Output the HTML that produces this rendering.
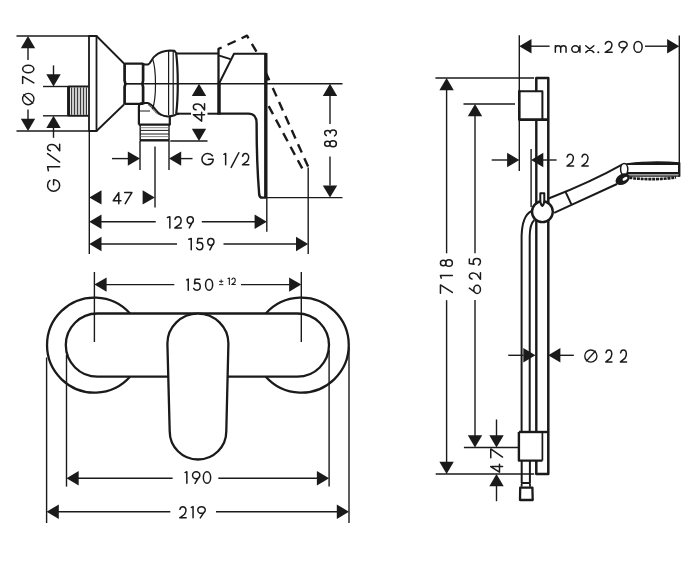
<!DOCTYPE html>
<html><head><meta charset="utf-8"><title>drawing</title>
<style>
html,body{margin:0;padding:0;background:#fff;}
body{width:700px;height:565px;overflow:hidden;}
svg{display:block;}
text{font-family:"Liberation Sans",sans-serif;fill:#1a1a1a;stroke:#fff;stroke-width:0.3px;}
</style></head><body>
<svg width="700" height="565" viewBox="0 0 700 565">
<rect x="0" y="0" width="700" height="565" fill="#fff"/>
<g stroke="#1a1a1a" fill="none" stroke-linecap="butt" stroke-linejoin="round">
<line x1="16.5" y1="36" x2="89" y2="36" stroke-width="1.4"/>
<line x1="16.5" y1="131" x2="89" y2="131" stroke-width="1.4"/>
<line x1="43" y1="86.5" x2="68" y2="86.5" stroke-width="1.4"/>
<line x1="43" y1="115.8" x2="68" y2="115.8" stroke-width="1.4"/>
<line x1="124" y1="83.7" x2="342.5" y2="83.7" stroke-width="1.4"/>
<polygon points="28,36 20.8,48.2 35.2,48.2" stroke="none" fill="#1a1a1a"/>
<polygon points="28,131 20.8,118.8 35.2,118.8" stroke="none" fill="#1a1a1a"/>
<line x1="28" y1="47" x2="28" y2="60" stroke-width="1.4"/>
<line x1="28" y1="109.5" x2="28" y2="119" stroke-width="1.4"/>
<line x1="53.5" y1="65.4" x2="53.5" y2="75" stroke-width="1.4"/>
<polygon points="53.5,86.5 46.3,74.3 60.7,74.3" stroke="none" fill="#1a1a1a"/>
<polygon points="53.5,115.8 46.3,128 60.7,128" stroke="none" fill="#1a1a1a"/>
<line x1="53.5" y1="127" x2="53.5" y2="137.8" stroke-width="1.4"/>
<path d="M88.5,86.4 H68.6 V115.7 H88.5" stroke-width="2" fill="none"/>
<line x1="68.6" y1="86.4" x2="68.6" y2="115.7" stroke-width="3"/>
<line x1="71.6" y1="87.4" x2="71.6" y2="114.8" stroke-width="1.1" stroke="#333"/>
<line x1="74.6" y1="87.4" x2="74.6" y2="114.8" stroke-width="1.1" stroke="#333"/>
<line x1="77.6" y1="87.4" x2="77.6" y2="114.8" stroke-width="1.1" stroke="#333"/>
<line x1="80.6" y1="87.4" x2="80.6" y2="114.8" stroke-width="1.1" stroke="#333"/>
<line x1="83.6" y1="87.4" x2="83.6" y2="114.8" stroke-width="1.1" stroke="#333"/>
<line x1="86.5" y1="87.4" x2="86.5" y2="114.8" stroke-width="1.1" stroke="#333"/>
<line x1="73.1" y1="87.4" x2="73.1" y2="114.8" stroke-width="0.8" stroke="#999"/>
<line x1="76.1" y1="87.4" x2="76.1" y2="114.8" stroke-width="0.8" stroke="#999"/>
<line x1="79.1" y1="87.4" x2="79.1" y2="114.8" stroke-width="0.8" stroke="#999"/>
<line x1="82.1" y1="87.4" x2="82.1" y2="114.8" stroke-width="0.8" stroke="#999"/>
<line x1="85.1" y1="87.4" x2="85.1" y2="114.8" stroke-width="0.8" stroke="#999"/>
<path d="M89,36 H96.5 V131 H89 Z" stroke-width="1.8" fill="none"/>
<path d="M96.5,36 L124,63.5 M96.5,131 L124,104.5" stroke-width="1.8" fill="none"/>
<path d="M124.5,63.6 H143.2 M124.5,103.9 H143.2" stroke-width="2.4" fill="none"/>
<path d="M124.6,63 V80.5 Q126,83.7 124.6,86.9 V104.5 M143.1,63 V80.5 Q141.7,83.7 143.1,86.9 V104.5" stroke-width="2.7" fill="none"/>
<line x1="124" y1="83.7" x2="143.5" y2="83.7" stroke-width="1.3"/>
<path d="M143.5,64.5 H148 C151,63.5 151,59 155,56 C159,52.5 164,50.8 170,50.6 L174.5,50.8 L176.5,53.6" stroke-width="2" fill="none"/>
<path d="M143,103.1 H147.5 C150.5,103.5 152.5,106 155,109 C158,113 162.5,116.3 167.5,116.5 C170.5,116.5 173,115.8 174.7,115.3 C176,114.2 177,113.7 179,113.7" stroke-width="2" fill="none"/>
<path d="M148,104.6 C150.5,106 152.5,109 155,111.7 C158,114.7 162,116 166.8,116.1" stroke-width="0.9" fill="none"/>
<path d="M152.5,58.5 C156.5,70 156.5,98 152.5,109" stroke-width="1.2" fill="none"/>
<line x1="168.6" y1="50.8" x2="168.6" y2="115" stroke-width="1.2"/>
<line x1="173.2" y1="51" x2="173.2" y2="114.5" stroke-width="1.2"/>
<path d="M176.2,53.6 C178.3,70 178.3,97 176.2,113.8" stroke-width="2.2" fill="none"/>
<path d="M138.9,124.5 V106.5 C138.9,104.5 140.5,103.3 143,103.2" stroke-width="2.2" fill="none"/>
<line x1="139.5" y1="111" x2="150" y2="111" stroke-width="1"/>
<line x1="169.8" y1="116" x2="169.8" y2="125" stroke-width="2.2"/>
<path d="M138.6,124.6 H170.4" stroke-width="2.2" fill="none"/>
<line x1="140.2" y1="125" x2="140.2" y2="140.5" stroke-width="1.4"/>
<line x1="169" y1="125" x2="169" y2="140.5" stroke-width="1.4"/>
<line x1="140.5" y1="127.7" x2="168.8" y2="127.7" stroke-width="0.9" stroke="#777"/>
<line x1="140.5" y1="130.4" x2="168.8" y2="130.4" stroke-width="1"/>
<line x1="140.5" y1="134" x2="168.8" y2="134" stroke-width="1"/>
<line x1="140.5" y1="136.6" x2="168.8" y2="136.6" stroke-width="0.9" stroke="#777"/>
<line x1="139.8" y1="140.3" x2="169.4" y2="140.3" stroke-width="2.4"/>
<line x1="176" y1="53.6" x2="218" y2="53.6" stroke-width="2"/>
<line x1="176" y1="113.7" x2="191" y2="113.7" stroke-width="2"/>
<line x1="207.5" y1="113.7" x2="219" y2="113.7" stroke-width="2"/>
<line x1="218.5" y1="48.5" x2="218.5" y2="84" stroke-width="2.3"/>
<line x1="219" y1="82.5" x2="219" y2="114.6" stroke-width="3.5"/>
<path d="M219.3,83 L234,53.7 H266" stroke-width="2" fill="none"/>
<line x1="218.5" y1="55.3" x2="230.5" y2="59.2" stroke-width="1.8"/>
<path d="M265.8,53 V197.6" stroke-width="3.4" fill="none"/>
<path d="M266.3,72.5 L269.5,79.5 L266.3,80" stroke-width="1.4" fill="#1a1a1a"/>
<path d="M219,113.6 H248.5 C253.5,113.6 256.6,117 256.6,123 C256.6,150 258,180 259.2,194.5 C259.5,197 260.5,197.6 262,197.6 H266" stroke-width="2.4" fill="none"/>
<path d="M218,49.2 L247,35.7 L257,52.5" stroke-width="2.4" fill="none" stroke-dasharray="9 6.5" stroke-dashoffset="5"/>
<path d="M308.1,166.6 L271.6,85.4" stroke-width="2.4" fill="none" stroke-dasharray="9.2 6.2"/>
<path d="M302.2,168.4 L267.9,104.7" stroke-width="2.4" fill="none" stroke-dasharray="9.2 6.2"/>
<line x1="207.5" y1="141" x2="170.3" y2="141" stroke-width="1.4"/>
<polygon points="199,83.7 191.8,95.9 206.2,95.9" stroke="none" fill="#1a1a1a"/>
<polygon points="199,141 191.8,128.8 206.2,128.8" stroke="none" fill="#1a1a1a"/>
<line x1="266" y1="197.6" x2="342.5" y2="197.6" stroke-width="1.4"/>
<polygon points="330,83.7 322.8,95.9 337.2,95.9" stroke="none" fill="#1a1a1a"/>
<polygon points="330,197.6 322.8,185.4 337.2,185.4" stroke="none" fill="#1a1a1a"/>
<line x1="330" y1="96" x2="330" y2="124" stroke-width="1.4"/>
<line x1="330" y1="156.5" x2="330" y2="185.5" stroke-width="1.4"/>
<line x1="140" y1="141" x2="140" y2="170" stroke-width="1.4"/>
<line x1="169" y1="141" x2="169" y2="170" stroke-width="1.4"/>
<line x1="155" y1="146.4" x2="155" y2="207.5" stroke-width="1.4"/>
<line x1="112" y1="158.6" x2="128" y2="158.6" stroke-width="1.4"/>
<polygon points="140,158.6 127.8,151.4 127.8,165.8" stroke="none" fill="#1a1a1a"/>
<polygon points="169,158.6 181.2,151.4 181.2,165.8" stroke="none" fill="#1a1a1a"/>
<line x1="181" y1="158.6" x2="192.5" y2="158.6" stroke-width="1.4"/>
<line x1="89.3" y1="131" x2="89.3" y2="254" stroke-width="1.4"/>
<line x1="266.8" y1="197.6" x2="266.8" y2="231.7" stroke-width="1.4"/>
<line x1="308.2" y1="167.5" x2="308.2" y2="254" stroke-width="1.4"/>
<polygon points="89.3,197.4 101.5,190.2 101.5,204.6" stroke="none" fill="#1a1a1a"/>
<polygon points="154.8,197.4 142.6,190.2 142.6,204.6" stroke="none" fill="#1a1a1a"/>
<polygon points="89.3,221.8 101.5,214.6 101.5,229" stroke="none" fill="#1a1a1a"/>
<line x1="101" y1="221.8" x2="155.7" y2="221.8" stroke-width="1.4"/>
<line x1="201.8" y1="221.8" x2="255" y2="221.8" stroke-width="1.4"/>
<polygon points="266.8,221.8 254.6,214.6 254.6,229" stroke="none" fill="#1a1a1a"/>
<polygon points="89.3,244 101.5,236.8 101.5,251.2" stroke="none" fill="#1a1a1a"/>
<line x1="101" y1="244" x2="177" y2="244" stroke-width="1.4"/>
<line x1="223.5" y1="244" x2="296.5" y2="244" stroke-width="1.4"/>
<polygon points="308.2,244 296,236.8 296,251.2" stroke="none" fill="#1a1a1a"/>
<path d="M130,313.5 A47.5,47.5 0 1 0 130,376.7" stroke-width="2.3" fill="none"/>
<path d="M265.8,313.5 A47.5,47.5 0 1 1 265.8,376.7" stroke-width="2.3" fill="none"/>
<path d="M97.4,313.5 H297.4 A31.6,31.6 0 0 1 297.4,376.7 H97.4 A31.6,31.6 0 0 1 97.4,313.5 Z" stroke-width="2.3" fill="none"/>
<path d="M167.4,343.6 A30.5,30 0 0 1 228.4,343.6 L226.3,431.2 A28.3,28.3 0 0 1 169.7,431.2 Z" stroke-width="2.3" fill="#fff"/>
<line x1="94.4" y1="272" x2="94.4" y2="342" stroke-width="1.4"/>
<line x1="301.3" y1="272" x2="301.3" y2="342" stroke-width="1.4"/>
<line x1="46.6" y1="357.5" x2="46.6" y2="523" stroke-width="1.4"/>
<line x1="66.5" y1="355" x2="66.5" y2="486.6" stroke-width="1.4"/>
<line x1="329.1" y1="350" x2="329.1" y2="486.6" stroke-width="1.4"/>
<line x1="349" y1="347" x2="349" y2="523" stroke-width="1.4"/>
<polygon points="94.4,284.6 106.6,277.4 106.6,291.8" stroke="none" fill="#1a1a1a"/>
<line x1="106" y1="284.6" x2="174.3" y2="284.6" stroke-width="1.4"/>
<line x1="241" y1="284.6" x2="289.5" y2="284.6" stroke-width="1.4"/>
<polygon points="301.3,284.6 289.1,277.4 289.1,291.8" stroke="none" fill="#1a1a1a"/>
<polygon points="66.5,478.3 78.7,471.1 78.7,485.5" stroke="none" fill="#1a1a1a"/>
<line x1="78" y1="478.3" x2="172.6" y2="478.3" stroke-width="1.4"/>
<line x1="218.3" y1="478.3" x2="317.5" y2="478.3" stroke-width="1.4"/>
<polygon points="329.1,478.3 316.9,471.1 316.9,485.5" stroke="none" fill="#1a1a1a"/>
<polygon points="46.6,511.7 58.8,504.5 58.8,518.9" stroke="none" fill="#1a1a1a"/>
<line x1="58" y1="511.7" x2="170.3" y2="511.7" stroke-width="1.4"/>
<line x1="216" y1="511.7" x2="337.5" y2="511.7" stroke-width="1.4"/>
<polygon points="349,511.7 336.8,504.5 336.8,518.9" stroke="none" fill="#1a1a1a"/>
<line x1="519.3" y1="35.3" x2="519.3" y2="91" stroke-width="1.4"/>
<line x1="519.3" y1="120" x2="519.3" y2="171" stroke-width="1.4"/>
<line x1="531.1" y1="149" x2="531.1" y2="207" stroke-width="1.4"/>
<line x1="679.3" y1="35.4" x2="679.3" y2="163" stroke-width="1.4"/>
<line x1="435.4" y1="78" x2="534" y2="78" stroke-width="1.4"/>
<line x1="463.5" y1="104" x2="515" y2="104" stroke-width="1.4"/>
<line x1="463.9" y1="447.5" x2="518.5" y2="447.5" stroke-width="1.4"/>
<line x1="435.7" y1="474" x2="534.2" y2="474" stroke-width="1.4"/>
<polygon points="519.3,46.2 531.5,39 531.5,53.4" stroke="none" fill="#1a1a1a"/>
<line x1="531" y1="46.2" x2="549.6" y2="46.2" stroke-width="1.4"/>
<line x1="645" y1="46.2" x2="667" y2="46.2" stroke-width="1.4"/>
<polygon points="679.3,46.2 667.1,39 667.1,53.4" stroke="none" fill="#1a1a1a"/>
<polygon points="446.6,78 439.4,90.2 453.8,90.2" stroke="none" fill="#1a1a1a"/>
<line x1="446.6" y1="90" x2="446.6" y2="253.3" stroke-width="1.4"/>
<line x1="446.6" y1="300.2" x2="446.6" y2="462" stroke-width="1.4"/>
<polygon points="446.6,474 439.4,461.8 453.8,461.8" stroke="none" fill="#1a1a1a"/>
<polygon points="475,104 467.8,116.2 482.2,116.2" stroke="none" fill="#1a1a1a"/>
<line x1="475" y1="116" x2="475" y2="253.3" stroke-width="1.4"/>
<line x1="475" y1="300" x2="475" y2="436" stroke-width="1.4"/>
<polygon points="475,447.5 467.8,435.3 482.2,435.3" stroke="none" fill="#1a1a1a"/>
<line x1="496.5" y1="419.5" x2="496.5" y2="436" stroke-width="1.4"/>
<polygon points="496.5,447.5 489.3,435.3 503.7,435.3" stroke="none" fill="#1a1a1a"/>
<polygon points="496.5,474 489.3,486.2 503.7,486.2" stroke="none" fill="#1a1a1a"/>
<line x1="496.5" y1="485" x2="496.5" y2="501.2" stroke-width="1.4"/>
<line x1="491.7" y1="160" x2="507.5" y2="160" stroke-width="1.4"/>
<polygon points="519.3,160 507.1,152.8 507.1,167.2" stroke="none" fill="#1a1a1a"/>
<polygon points="531.1,160 543.3,152.8 543.3,167.2" stroke="none" fill="#1a1a1a"/>
<line x1="542.5" y1="160" x2="556.6" y2="160" stroke-width="1.4"/>
<path d="M531.2,211.2 C526,214 522,222 521.6,236 V432" stroke-width="2" fill="none"/>
<path d="M534.4,220 C531.5,222.5 529.8,228 529.7,236 V432" stroke-width="2" fill="none"/>
<path d="M521.7,460.5 V483 M529.9,460.5 V483" stroke-width="2" fill="none"/>
<path d="M521.6,486.8 V484.3 Q521.6,483 523,483 H528.6 Q530,483 530,484.3 V486.8" stroke-width="1.8" fill="none"/>
<path d="M520.2,487.6 H532.4 L532.7,500 H520 Z" stroke-width="2.3" fill="none"/>
<path d="M536.3,91.2 V78 H548.3 V474 H536.3 V460.5" stroke-width="2.5" fill="none"/>
<line x1="536.3" y1="119.5" x2="536.3" y2="432" stroke-width="2.4"/>
<path d="M519.3,91.2 H542.4 V119.6" stroke-width="2" fill="#fff"/>
<path d="M519.3,90.2 V119.6 H548.3" stroke-width="2.6" fill="none"/>
<path d="M518.9,432 H548.3" stroke-width="2.4" fill="none"/>
<path d="M518.9,432 V460.6 H542.4" stroke-width="2.4" fill="none"/>
<line x1="542.4" y1="432" x2="542.4" y2="460.6" stroke-width="1.7"/>
<line x1="508.3" y1="355.3" x2="523.5" y2="355.3" stroke-width="1.4"/>
<polygon points="535.5,355.3 523.3,348.1 523.3,362.5" stroke="none" fill="#1a1a1a"/>
<polygon points="548.2,355.3 560.4,348.1 560.4,362.5" stroke="none" fill="#1a1a1a"/>
<line x1="559.7" y1="355.3" x2="573.8" y2="355.3" stroke-width="1.4"/>
<path d="M548.6,198.5 Q592,181.5 622.5,164.3" stroke-width="2" fill="none"/>
<path d="M554.1,212.8 L617,184" stroke-width="2" fill="none"/>
<path d="M565.2,191.2 L571.3,204.2" stroke-width="2" fill="none"/>
<circle cx="542.4" cy="211.7" r="10.4" fill="#fff" stroke-width="2.4"/>
<path d="M540.3,193.3 H544.3 V200 C544.3,202.8 543,205.4 542.3,205.9 C541.6,205.4 540.3,202.8 540.3,200 Z" stroke-width="2" fill="#fff"/>
<path d="M624,164.4 C636,161.6 664,161.4 679.3,163 V164.4 Z" stroke-width="1.3" fill="#1a1a1a"/>
<line x1="679.2" y1="162.5" x2="679.2" y2="176.6" stroke-width="2.4"/>
<line x1="626.5" y1="173.1" x2="680" y2="173.1" stroke-width="2.1"/>
<line x1="627.5" y1="174.9" x2="679" y2="174.9" stroke-width="1.4" stroke="#8a8a8a"/>
<line x1="627.5" y1="176.1" x2="680" y2="176.1" stroke-width="1.3"/>
<path d="M629.5,177.6 C640,179.6 660,179.8 676,177.4" stroke-width="2.6" fill="none" stroke-dasharray="3 0.8"/>
<ellipse cx="624.2" cy="169.3" rx="3.6" ry="5.7" fill="#fff" stroke-width="1.5"/>
<ellipse cx="622.6" cy="179.2" rx="7.6" ry="5.2" transform="rotate(-30 622.6 179.2)" fill="#1a1a1a" stroke="none"/>
<ellipse cx="625" cy="178.8" rx="2.7" ry="1.5" transform="rotate(-30 625 178.8)" fill="#fff" stroke="none"/>
</g>
<g stroke="#1a1a1a" fill="none">
</g>
<g stroke="#1a1a1a">
<path d="M22.65,83.45L22.65,76.45L33.85,82.89" fill="none" stroke-width="1.5" stroke-linecap="round" stroke-linejoin="round"/>
<path d="M22.65,69.1C22.65,67.03 25.16,65.35 28.25,65.35C31.34,65.35 33.85,67.03 33.85,69.1C33.85,71.17 31.34,72.85 28.25,72.85C25.16,72.85 22.65,71.17 22.65,69.1Z" fill="none" stroke-width="1.5" stroke-linecap="round" stroke-linejoin="round"/>
<circle cx="28.25" cy="99.05" r="5.67" fill="none" stroke-width="1.35"/>
<line x1="23.17" y1="94.57" x2="33.33" y2="103.53" stroke-width="1.35"/>
<path d="M49.97,180.46C48.4,181.49 47.55,183.33 47.55,185.4C47.55,188.62 50.21,191.15 53.6,191.15C56.99,191.15 59.65,188.62 59.65,185.4C59.65,182.18 56.99,179.65 53.6,179.65L53.6,184.71" fill="none" stroke-width="1.5" stroke-linecap="round" stroke-linejoin="round"/>
<path d="M48.4,170.75L47.55,166.65L59.65,166.65" fill="none" stroke-width="1.5" stroke-linecap="round" stroke-linejoin="round"/>
<path d="M59.65,162.05L47.55,153.65" fill="none" stroke-width="1.5" stroke-linecap="round" stroke-linejoin="round"/>
<path d="M50.45,150.69C48.52,150.29 47.55,149.1 47.55,147.65C47.55,145.8 49.49,144.55 51.54,144.55C53.24,144.55 54.45,145.14 55.78,145.93L59.65,150.82L59.65,144.35" fill="none" stroke-width="1.5" stroke-linecap="round" stroke-linejoin="round"/>
<path d="M204.55,114.67L194.25,114.67M193.35,114.67L201.64,121.15L201.64,112.15" fill="none" stroke-width="1.5" stroke-linecap="round" stroke-linejoin="round"/>
<path d="M196.04,109.8C194.25,109.42 193.35,108.29 193.35,106.9C193.35,105.14 195.14,103.94 197.05,103.94C198.61,103.94 199.73,104.51 200.97,105.26L204.55,109.92L204.55,103.75" fill="none" stroke-width="1.5" stroke-linecap="round" stroke-linejoin="round"/>
<path d="M324.65,143.75C324.65,142.39 325.88,141.29 327.4,141.29C328.92,141.29 330.15,142.39 330.15,143.75C330.15,145.11 328.92,146.21 327.4,146.21C325.88,146.21 324.65,145.11 324.65,143.75ZM329.8,143.75C329.8,142.09 331.26,140.75 333.07,140.75C334.88,140.75 336.35,142.09 336.35,143.75C336.35,145.41 334.88,146.75 333.07,146.75C331.26,146.75 329.8,145.41 329.8,143.75Z" fill="none" stroke-width="1.5" stroke-linecap="round" stroke-linejoin="round"/>
<path d="M326.29,135.5C325.12,134.79 324.65,133.96 324.65,132.9C324.65,131.37 326.05,130.42 327.69,130.42C329.33,130.42 330.15,131.48 330.15,133.02C330.15,131.13 331.44,129.95 333.31,129.95C335.18,129.95 336.35,131.13 336.35,132.9C336.35,134.08 335.77,135.14 334.48,135.85" fill="none" stroke-width="1.5" stroke-linecap="round" stroke-linejoin="round"/>
<path d="M212.46,155.79C211.44,154.33 209.63,153.55 207.6,153.55C204.44,153.55 201.95,156.01 201.95,159.15C201.95,162.29 204.44,164.75 207.6,164.75C210.76,164.75 213.25,162.29 213.25,159.15L208.28,159.15" fill="none" stroke-width="1.5" stroke-linecap="round" stroke-linejoin="round"/>
<path d="M223.95,154.33L225.65,153.55L225.65,164.75" fill="none" stroke-width="1.5" stroke-linecap="round" stroke-linejoin="round"/>
<path d="M231.15,167.45L238.85,152.75" fill="none" stroke-width="1.5" stroke-linecap="round" stroke-linejoin="round"/>
<path d="M242.61,156.24C243,154.45 244.17,153.55 245.6,153.55C247.42,153.55 248.66,155.34 248.66,157.25C248.66,158.81 248.07,159.93 247.29,161.17L242.48,164.75L248.85,164.75" fill="none" stroke-width="1.5" stroke-linecap="round" stroke-linejoin="round"/>
<path d="M118.79,203.65L118.79,193.44M118.79,192.55L113.25,200.76L120.95,200.76" fill="none" stroke-width="1.5" stroke-linecap="round" stroke-linejoin="round"/>
<path d="M124.65,192.55L131.85,192.55L125.23,203.65" fill="none" stroke-width="1.5" stroke-linecap="round" stroke-linejoin="round"/>
<path d="M167.45,217.44L169.85,216.65L169.85,227.95" fill="none" stroke-width="1.5" stroke-linecap="round" stroke-linejoin="round"/>
<path d="M175.01,219.36C175.41,217.55 176.6,216.65 178.05,216.65C179.9,216.65 181.15,218.46 181.15,220.38C181.15,221.96 180.56,223.09 179.77,224.33L174.88,227.95L181.35,227.95" fill="none" stroke-width="1.5" stroke-linecap="round" stroke-linejoin="round"/>
<path d="M190.25,216.65C191.96,216.65 193.35,218.17 193.35,220.04C193.35,221.91 191.96,223.43 190.25,223.43C188.54,223.43 187.15,221.91 187.15,220.04C187.15,218.17 188.54,216.65 190.25,216.65ZM192.73,221.62L189.26,227.95" fill="none" stroke-width="1.5" stroke-linecap="round" stroke-linejoin="round"/>
<path d="M188.85,239.25L191.25,238.45L191.25,249.85" fill="none" stroke-width="1.5" stroke-linecap="round" stroke-linejoin="round"/>
<path d="M202.35,238.45L197.94,238.45L197.37,243.24C198.12,242.67 198.94,242.44 199.7,242.44C201.59,242.44 202.85,244.15 202.85,246.09C202.85,248.37 201.46,249.85 199.7,249.85C198.44,249.85 197.18,249.05 196.55,247.91" fill="none" stroke-width="1.5" stroke-linecap="round" stroke-linejoin="round"/>
<path d="M210.85,238.45C212.56,238.45 213.95,239.98 213.95,241.87C213.95,243.76 212.56,245.29 210.85,245.29C209.14,245.29 207.75,243.76 207.75,241.87C207.75,239.98 209.14,238.45 210.85,238.45ZM213.33,243.47L209.86,249.85" fill="none" stroke-width="1.5" stroke-linecap="round" stroke-linejoin="round"/>
<path d="M186.75,279.92L188.25,279.15L188.25,290.15" fill="none" stroke-width="1.5" stroke-linecap="round" stroke-linejoin="round"/>
<path d="M199.72,279.15L195.1,279.15L194.51,283.77C195.3,283.22 196.16,283 196.95,283C198.93,283 200.25,284.65 200.25,286.52C200.25,288.72 198.8,290.15 196.95,290.15C195.63,290.15 194.31,289.38 193.65,288.28" fill="none" stroke-width="1.5" stroke-linecap="round" stroke-linejoin="round"/>
<path d="M209.1,279.15C211.06,279.15 212.65,281.61 212.65,284.65C212.65,287.69 211.06,290.15 209.1,290.15C207.14,290.15 205.55,287.69 205.55,284.65C205.55,281.61 207.14,279.15 209.1,279.15Z" fill="none" stroke-width="1.5" stroke-linecap="round" stroke-linejoin="round"/>
<path d="M221.2,279.88L221.2,282.82M219.47,281.35L222.93,281.35M219.47,284.63L222.93,284.63" fill="none" stroke-width="0.95" stroke-linecap="round" stroke-linejoin="round"/>
<path d="M227.95,278.41L229.35,277.95L229.35,284.55" fill="none" stroke-width="1.1" stroke-linecap="round" stroke-linejoin="round"/>
<path d="M231.89,279.53C232.11,278.48 232.76,277.95 233.55,277.95C234.56,277.95 235.24,279.01 235.24,280.13C235.24,281.05 234.92,281.71 234.49,282.44L231.82,284.55L235.35,284.55" fill="none" stroke-width="1.1" stroke-linecap="round" stroke-linejoin="round"/>
<path d="M185.05,472.56L186.85,471.75L186.85,483.35" fill="none" stroke-width="1.5" stroke-linecap="round" stroke-linejoin="round"/>
<path d="M196.2,471.75C198.22,471.75 199.85,473.31 199.85,475.23C199.85,477.15 198.22,478.71 196.2,478.71C194.18,478.71 192.55,477.15 192.55,475.23C192.55,473.31 194.18,471.75 196.2,471.75ZM199.12,476.85L195.03,483.35" fill="none" stroke-width="1.5" stroke-linecap="round" stroke-linejoin="round"/>
<path d="M207,471.75C209.02,471.75 210.65,474.35 210.65,477.55C210.65,480.75 209.02,483.35 207,483.35C204.98,483.35 203.35,480.75 203.35,477.55C203.35,474.35 204.98,471.75 207,471.75Z" fill="none" stroke-width="1.5" stroke-linecap="round" stroke-linejoin="round"/>
<path d="M179.91,509.34C180.3,507.55 181.47,506.65 182.9,506.65C184.72,506.65 185.96,508.44 185.96,510.35C185.96,511.91 185.37,513.03 184.59,514.27L179.78,517.85L186.15,517.85" fill="none" stroke-width="1.5" stroke-linecap="round" stroke-linejoin="round"/>
<path d="M191.35,507.43L193.05,506.65L193.05,517.85" fill="none" stroke-width="1.5" stroke-linecap="round" stroke-linejoin="round"/>
<path d="M201.5,506.65C203.57,506.65 205.25,508.15 205.25,510.01C205.25,511.87 203.57,513.37 201.5,513.37C199.43,513.37 197.75,511.87 197.75,510.01C197.75,508.15 199.43,506.65 201.5,506.65ZM204.5,511.58L200.3,517.85" fill="none" stroke-width="1.5" stroke-linecap="round" stroke-linejoin="round"/>
<path d="M555.35,45.75L555.35,52.35M555.35,48.06C555.35,46.54 556.63,45.75 558.13,45.75C559.63,45.75 560.7,46.54 560.7,48.06L560.7,52.35M560.7,48.06C560.7,46.54 561.98,45.75 563.48,45.75C564.98,45.75 566.05,46.54 566.05,48.06L566.05,52.35" fill="none" stroke-width="1.5" stroke-linecap="round" stroke-linejoin="round"/>
<path d="M575.36,45.75C577.35,45.75 578.97,47.23 578.97,49.05C578.97,50.87 577.35,52.35 575.36,52.35C573.37,52.35 571.75,50.87 571.75,49.05C571.75,47.23 573.37,45.75 575.36,45.75ZM579.95,45.75L579.95,52.35" fill="none" stroke-width="1.5" stroke-linecap="round" stroke-linejoin="round"/>
<path d="M585.75,45.75L593.85,52.35M593.85,45.75L585.75,52.35" fill="none" stroke-width="1.5" stroke-linecap="round" stroke-linejoin="round"/>
<circle cx="598.3" cy="52.2" r="1.05" fill="#1a1a1a" stroke="none"/>
<path d="M605.33,44.07C605.76,42.32 607.04,41.45 608.6,41.45C610.59,41.45 611.94,43.19 611.94,45.05C611.94,46.57 611.3,47.66 610.45,48.86L605.19,52.35L612.15,52.35" fill="none" stroke-width="1.5" stroke-linecap="round" stroke-linejoin="round"/>
<path d="M623.05,41.45C625.31,41.45 627.15,42.91 627.15,44.72C627.15,46.53 625.31,47.99 623.05,47.99C620.79,47.99 618.95,46.53 618.95,44.72C618.95,42.91 620.79,41.45 623.05,41.45ZM626.33,46.25L621.74,52.35" fill="none" stroke-width="1.5" stroke-linecap="round" stroke-linejoin="round"/>
<path d="M638.05,41.45C640.31,41.45 642.15,43.89 642.15,46.9C642.15,49.91 640.31,52.35 638.05,52.35C635.79,52.35 633.95,49.91 633.95,46.9C633.95,43.89 635.79,41.45 638.05,41.45Z" fill="none" stroke-width="1.5" stroke-linecap="round" stroke-linejoin="round"/>
<path d="M567.12,157.01C567.52,155.1 568.73,154.15 570.2,154.15C572.08,154.15 573.35,156.05 573.35,158.08C573.35,159.74 572.75,160.93 571.94,162.24L566.98,166.05L573.55,166.05" fill="none" stroke-width="1.5" stroke-linecap="round" stroke-linejoin="round"/>
<path d="M582.01,157.01C582.39,155.1 583.54,154.15 584.95,154.15C586.74,154.15 587.96,156.05 587.96,158.08C587.96,159.74 587.38,160.93 586.61,162.24L581.88,166.05L588.15,166.05" fill="none" stroke-width="1.5" stroke-linecap="round" stroke-linejoin="round"/>
<circle cx="590.85" cy="356.05" r="6.08" fill="none" stroke-width="1.35"/>
<line x1="586.09" y1="361.41" x2="595.61" y2="350.69" stroke-width="1.35"/>
<path d="M606,352.83C606.37,350.91 607.49,349.95 608.85,349.95C610.59,349.95 611.76,351.87 611.76,353.91C611.76,355.59 611.21,356.79 610.46,358.11L605.87,361.95L611.95,361.95" fill="none" stroke-width="1.5" stroke-linecap="round" stroke-linejoin="round"/>
<path d="M620.6,352.83C620.97,350.91 622.09,349.95 623.45,349.95C625.19,349.95 626.36,351.87 626.36,353.91C626.36,355.59 625.81,356.79 625.06,358.11L620.47,361.95L626.55,361.95" fill="none" stroke-width="1.5" stroke-linecap="round" stroke-linejoin="round"/>
<path d="M440.45,293.15L440.45,284.95L452.35,292.49" fill="none" stroke-width="1.5" stroke-linecap="round" stroke-linejoin="round"/>
<path d="M441.28,278.15L440.45,275.55L452.35,275.55" fill="none" stroke-width="1.5" stroke-linecap="round" stroke-linejoin="round"/>
<path d="M440.45,263C440.45,261.48 441.7,260.25 443.25,260.25C444.79,260.25 446.04,261.48 446.04,263C446.04,264.52 444.79,265.75 443.25,265.75C441.7,265.75 440.45,264.52 440.45,263ZM445.69,263C445.69,261.15 447.18,259.65 449.02,259.65C450.86,259.65 452.35,261.15 452.35,263C452.35,264.85 450.86,266.35 449.02,266.35C447.18,266.35 445.69,264.85 445.69,263Z" fill="none" stroke-width="1.5" stroke-linecap="round" stroke-linejoin="round"/>
<path d="M469.35,288.14L475.57,292.73M473.79,289.45C473.79,287.19 475.28,285.35 477.12,285.35C478.96,285.35 480.45,287.19 480.45,289.45C480.45,291.71 478.96,293.55 477.12,293.55C475.28,293.55 473.79,291.71 473.79,289.45Z" fill="none" stroke-width="1.5" stroke-linecap="round" stroke-linejoin="round"/>
<path d="M472.01,279.09C470.24,278.69 469.35,277.5 469.35,276.05C469.35,274.2 471.13,272.95 473.01,272.95C474.57,272.95 475.68,273.54 476.9,274.33L480.45,279.22L480.45,272.75" fill="none" stroke-width="1.5" stroke-linecap="round" stroke-linejoin="round"/>
<path d="M469.35,258.98L469.35,263.6L474.01,264.19C473.46,263.4 473.24,262.54 473.24,261.75C473.24,259.77 474.9,258.45 476.79,258.45C479.01,258.45 480.45,259.9 480.45,261.75C480.45,263.07 479.67,264.39 478.56,265.05" fill="none" stroke-width="1.5" stroke-linecap="round" stroke-linejoin="round"/>
<path d="M502.55,466.53L491.69,466.53M490.75,466.53L499.48,472.15L499.48,464.35" fill="none" stroke-width="1.5" stroke-linecap="round" stroke-linejoin="round"/>
<path d="M490.75,457.75L490.75,448.95L502.55,457.05" fill="none" stroke-width="1.5" stroke-linecap="round" stroke-linejoin="round"/>
</g>
</svg>
</body></html>
